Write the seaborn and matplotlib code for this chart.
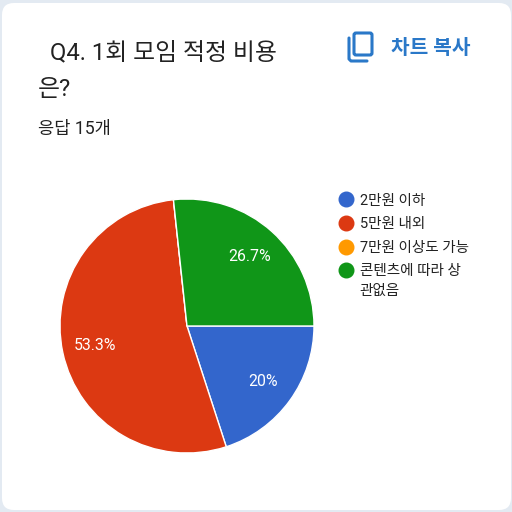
import matplotlib
matplotlib.use('Agg')
import matplotlib.pyplot as plt
import seaborn as sns
from matplotlib.lines import Line2D
from matplotlib.patches import FancyBboxPatch

categories = ['2만원 이하', '5만원 내외', '7만원 이상도 가능', '콘텐츠에 따라 상']
category_wrap = '관없음'
values = [20.0, 53.3, 0.0, 26.7]
colors = ['#3366cc', '#dc3912', '#ff9900', '#109618']
title_lines = ['Q4. 1회 모임 적정 비용', '은?']
subtitle = '응답 15개'
copy_label = '차트 복사'

sns.set_theme(style='white')
plt.rcParams['font.family'] = ['Roboto', 'Noto Sans CJK KR', 'DejaVu Sans']

fig = plt.figure(figsize=(5.12, 5.12), dpi=100, facecolor='#e3eaf2')

# card and header drawn in pixel coords
bg = fig.add_axes([0, 0, 1, 1])
bg.set_xlim(0, 512)
bg.set_ylim(512, 0)
bg.axis('off')
bg.add_patch(FancyBboxPatch((2, 3), 509, 507, boxstyle='round,pad=0,rounding_size=12',
                            fc='white', ec='none'))
bg.text(50, 53, title_lines[0], fontsize=17.2, color='#222222', va='center', ha='left')
bg.text(38, 89, title_lines[1], fontsize=17.2, color='#222222', va='center', ha='left')
bg.text(38, 129, subtitle, fontsize=12.7, color='#222222', va='center', ha='left')
bg.text(391, 48, copy_label, fontsize=14.6, color='#2a78c8', va='center', ha='left', fontweight='bold')
bg.text(359.5, 291, category_wrap, fontsize=10.5, color='#222222', va='center', ha='left')

# copy icon
bg.add_patch(FancyBboxPatch((354, 33), 18, 22, boxstyle='round,pad=0,rounding_size=2',
                            fc='none', ec='#2a78c8', lw=2.2))
bg.plot([349, 349, 351, 367], [38, 59, 61, 61], color='#2a78c8', lw=2.2, solid_capstyle='round')

ax = fig.add_axes([60/512, (512-453)/512, 254/512, 254/512])


def pct_label(p):
    if p == 0:
        return ''
    return f'{p:.0f}%' if abs(p - round(p)) < 0.05 else f'{p:.1f}%'


wedges, _, autotexts = ax.pie(values, colors=colors, startangle=0, counterclock=False,
                              autopct=pct_label, pctdistance=0.74, radius=1,
                              wedgeprops={'edgecolor': 'white', 'linewidth': 1})
for t in autotexts:
    t.set_color('white')
    t.set_fontsize(11.4)
ax.set_xlim(-1, 1)
ax.set_ylim(-1, 1)

handles = [Line2D([], [], marker='o', ls='none', color=c, markersize=10.5) for c in colors]
leg = fig.legend(handles, categories, loc='upper left', bbox_to_anchor=(336/512, 1-193.5/512),
                 frameon=False, fontsize=10.5, labelspacing=0.66, handletextpad=0.28,
                 handlelength=1.4, borderpad=0, borderaxespad=0, labelcolor='#222222')

fig.savefig('out.png', dpi=100)
